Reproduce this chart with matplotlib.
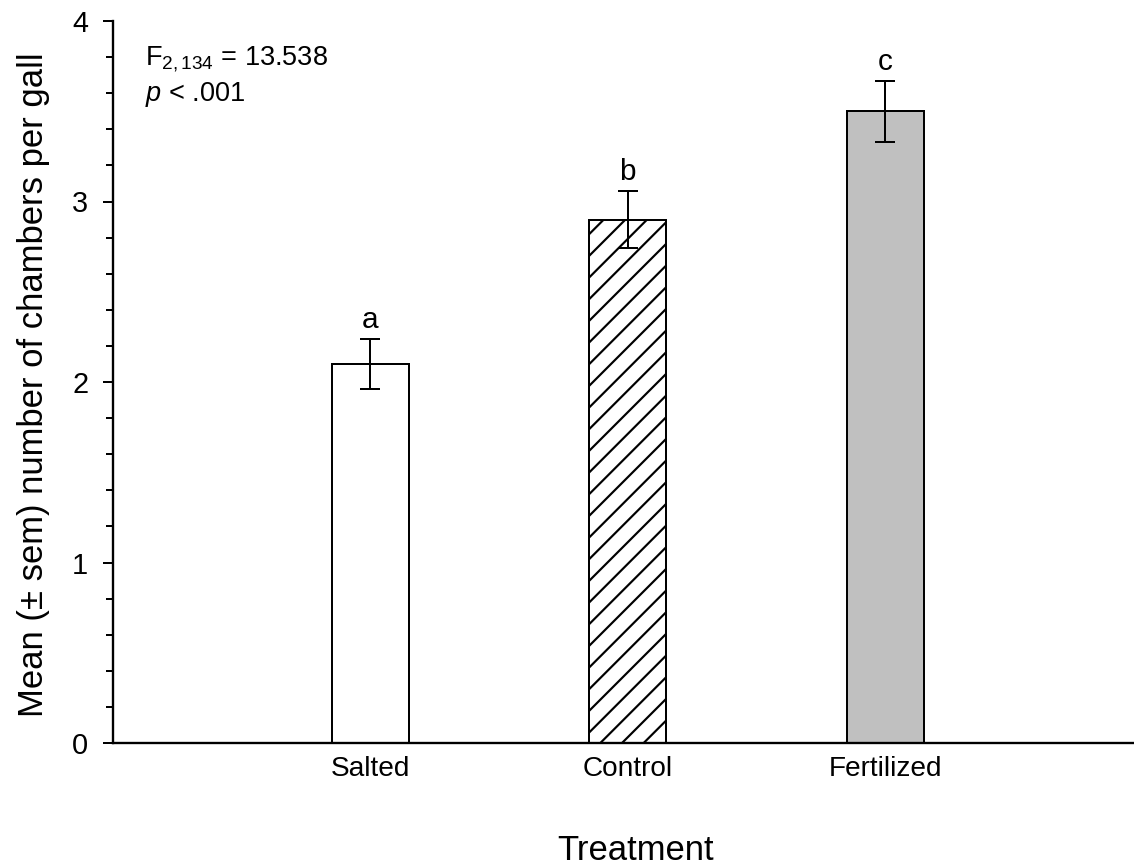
import numpy as np
import matplotlib
matplotlib.use('Agg')
import matplotlib.pyplot as plt
from matplotlib.ticker import MultipleLocator

plt.rcParams['font.family'] = ['Liberation Sans', 'DejaVu Sans']
plt.rcParams['mathtext.fontset'] = 'custom'
plt.rcParams['mathtext.rm'] = 'Liberation Sans'
plt.rcParams['mathtext.it'] = 'Liberation Sans:italic'
plt.rcParams['hatch.linewidth'] = 1.2

treatments = ['Salted', 'Control', 'Fertilized']
means = [2.10, 2.90, 3.50]
sems = [0.14, 0.16, 0.17]
letters = ['a', 'b', 'c']
colors = ['white', 'white', '#c0c0c0']
hatches = ['', '//', '']

dpi = 130
fig = plt.figure(figsize=(1134 / dpi, 867 / dpi), dpi=dpi)
ax = fig.add_axes([112.7 / 1134, 1 - 743 / 867, 1 - 112.7 / 1134, (743 - 21) / 867])

x = np.arange(1, len(treatments) + 1)
for xi, m, c, h in zip(x, means, colors, hatches):
    ax.bar(xi, m, width=0.3, color=c, edgecolor='black', linewidth=1.1, hatch=h)
ax.errorbar(x, means, yerr=sems, fmt='none', ecolor='black', elinewidth=1.1,
            capsize=5.5, capthick=1.1)

# significance letters above the error bars
for xi, m, s, l in zip(x, means, sems, letters):
    ax.annotate(l, (xi, m + s), xytext=(0, 2.5), textcoords='offset points',
                ha='center', va='bottom', fontsize=16.5)

ax.set_xlim(0, (1134 - 112.7) / 257.5)
ax.set_ylim(0, 4)
ax.set_xticks(x)
ax.set_xticklabels(treatments, fontsize=15.5)
ax.tick_params(axis='x', length=0, pad=7)
ax.yaxis.set_major_locator(MultipleLocator(1))
ax.yaxis.set_minor_locator(MultipleLocator(0.2))
ax.tick_params(axis='y', which='major', length=5.5, width=1.1, labelsize=16, pad=8)
ax.tick_params(axis='y', which='minor', length=3.7, width=1.1)
for side in ['top', 'right']:
    ax.spines[side].set_visible(False)
for side in ['left', 'bottom']:
    ax.spines[side].set_linewidth(1.3)

fig.text(145 / 1134, 1 - 65 / 867, r'F$_{2,134}$ = 13.538', fontsize=15,
         ha='left', va='baseline')
fig.text(145 / 1134, 1 - 101 / 867, r'$\it{p}$ < .001', fontsize=15,
         ha='left', va='baseline')

fig.text(34 / 1134, 1 - 385 / 867, 'Mean (± sem) number of chambers per gall',
         rotation=90, ha='center', va='center', fontsize=19.2)
fig.text(636 / 1134, 1 - 851 / 867, 'Treatment', ha='center', va='center',
         fontsize=19.2)

fig.savefig('out.png', dpi=dpi)
